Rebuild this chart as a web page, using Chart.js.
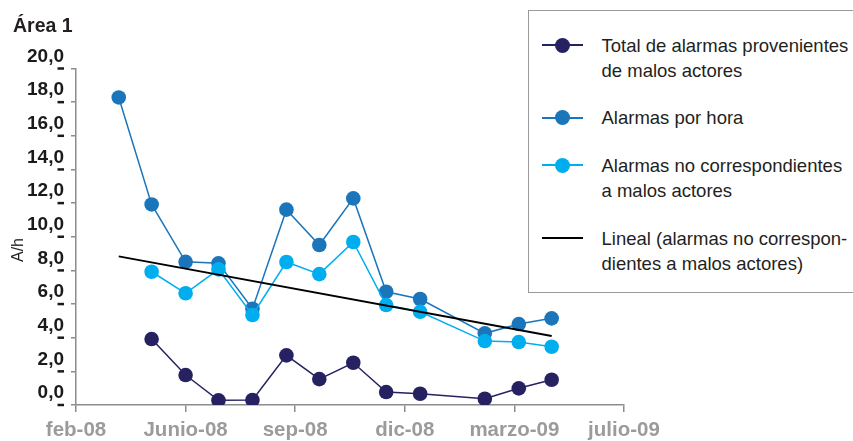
<!DOCTYPE html>
<html lang="es">
<head>
<meta charset="utf-8">
<title>Área 1 – alarmas por hora</title>
<script src="https://cdn.jsdelivr.net/npm/chart.js@4.4.1/dist/chart.umd.min.js"></script>
<style>
  html, body { margin: 0; padding: 0; background: #fff; }
  #wrap { position: relative; width: 853px; height: 441px; overflow: hidden;
          font-family: "Liberation Sans", Arial, sans-serif; color: #231f20; }
  #chart { position: absolute; left: 0; top: 0; }
  #title { position: absolute; left: 13px; top: 12.5px; font-weight: bold; font-size: 19.5px; line-height: 24px; }
  #ytitle { position: absolute; left: 17.5px; top: 250px; font-size: 16px; line-height: 18px;
            white-space: nowrap; transform: translate(-50%, -50%) rotate(-90deg); }
  #legendBox { position: absolute; left: 527.5px; top: 10px; width: 360px; height: 283px;
               box-sizing: border-box; border: 1.5px solid #9a9a9a; background: #fff; }
  .lg-line { position: absolute; left: 542px; width: 41px; height: 2px; }
  .lg-dot { position: absolute; left: 13px; top: -6.5px; width: 15px; height: 15px; border-radius: 50%; }
  .lg-text { position: absolute; left: 601.5px; font-size: 18.5px; line-height: 25px; white-space: nowrap; }
</style>
</head>
<body>
<div id="wrap">
  <canvas id="chart" width="853" height="441"></canvas>
  <div id="title">Área 1</div>
  <div id="ytitle">A/h</div>
  <div id="legendBox"></div>
</div>
<script>
// Monthly readings (first day of each month); February 2009 has no reading.
const months = ['2008-04', '2008-05', '2008-06', '2008-07', '2008-08', '2008-09', '2008-10',
                '2008-11', '2008-12', '2009-01', '2009-03', '2009-04', '2009-05'];

// Total de alarmas provenientes de malos actores
const badActorAlarms = [null, 3.92, 1.78, 0.28, 0.30, 2.95, 1.54, 2.51, 0.77, 0.67, 0.37, 0.99, 1.50];
// Alarmas por hora
const alarmsPerHour = [18.28, 11.92, 8.51, 8.42, 5.72, 11.61, 9.51, 12.28, 6.73, 6.30, 4.26, 4.81, 5.15];
// Alarmas no correspondientes a malos actores
const otherAlarms = [null, 7.92, 6.64, 8.06, 5.35, 8.50, 7.78, 9.69, 5.94, 5.54, 3.80, 3.74, 3.46];

// Date axis: starts 22 Feb 2008, a labelled tick every 100 days
const axisStartDate = '2008-02-22';
const tickStepDays = 100;
const xTickLabels = ['feb-08', 'Junio-08', 'sep-08', 'dic-08', 'marzo-09', 'julio-09'];

const yMin = 0, yMax = 20, yStep = 2;

const seriesNames = [
  'Total de alarmas provenientes\nde malos actores',
  'Alarmas por hora',
  'Alarmas no correspondientes\na malos actores',
  'Lineal (alarmas no correspon-\ndientes a malos actores)'
];
const seriesColors = ['#262262', '#1b75bb', '#00aeef', '#000000'];

// ---- helpers -------------------------------------------------------------
function dayNumber(iso) {
  const p = iso.split('-').map(Number);
  return Date.UTC(p[0], p[1] - 1, p[2] || 1) / 86400000;
}
const monthDays = months.map(m => dayNumber(m));
function toPoints(values) {
  const pts = [];
  values.forEach((v, i) => { if (v !== null) pts.push({ x: monthDays[i], y: v }); });
  return pts;
}

// Least-squares linear trend of a series, evaluated over the full month range
function linearTrend(points) {
  const n = points.length;
  const mx = points.reduce((s, p) => s + p.x, 0) / n;
  const my = points.reduce((s, p) => s + p.y, 0) / n;
  let sxy = 0, sxx = 0;
  points.forEach(p => { sxy += (p.x - mx) * (p.y - my); sxx += (p.x - mx) * (p.x - mx); });
  const slope = sxy / sxx;
  const x0 = monthDays[0], x1 = monthDays[monthDays.length - 1];
  return [{ x: x0, y: my + slope * (x0 - mx) }, { x: x1, y: my + slope * (x1 - mx) }];
}

const xStart = dayNumber(axisStartDate);
const xEnd = xStart + tickStepDays * (xTickLabels.length - 1);

const badPts = toPoints(badActorAlarms);
const hourPts = toPoints(alarmsPerHour);
const otherPts = toPoints(otherAlarms);
const trendPts = linearTrend(otherPts);

const axisGrey = '#8c8c8c';

// Short black dashes beside each value label of the vertical axis
const yLabelDashes = {
  id: 'yLabelDashes',
  afterDraw(chart) {
    const s = chart.scales.y, ctx = chart.ctx;
    ctx.save();
    ctx.strokeStyle = '#1a1a1a';
    ctx.lineWidth = 2.5;
    s.ticks.forEach(t => {
      const py = s.getPixelForValue(t.value);
      ctx.beginPath();
      ctx.moveTo(s.right - 18.5, py);
      ctx.lineTo(s.right - 12, py);
      ctx.stroke();
    });
    ctx.restore();
  }
};

const pointStyle = { pointRadius: 7.3, pointBorderWidth: 0, pointHoverRadius: 7.3, borderWidth: 1.5, tension: 0 };

const chart = new Chart(document.getElementById('chart'), {
  type: 'line',
  data: {
    datasets: [
      Object.assign({ label: seriesNames[0], data: badPts, borderColor: seriesColors[0],
        backgroundColor: seriesColors[0], pointBackgroundColor: seriesColors[0], order: 3 }, pointStyle),
      Object.assign({ label: seriesNames[1], data: hourPts, borderColor: seriesColors[1],
        backgroundColor: seriesColors[1], pointBackgroundColor: seriesColors[1], order: 2 }, pointStyle),
      Object.assign({ label: seriesNames[2], data: otherPts, borderColor: seriesColors[2],
        backgroundColor: seriesColors[2], pointBackgroundColor: seriesColors[2], order: 1 }, pointStyle),
      { label: seriesNames[3], data: trendPts, borderColor: seriesColors[3], borderWidth: 2,
        pointRadius: 0, order: 0 }
    ]
  },
  options: {
    responsive: false,
    animation: false,
    events: [],
    devicePixelRatio: 1,
    layout: { padding: { left: 0, top: 68.5, right: 229, bottom: 0 } },
    plugins: { legend: { display: false }, title: { display: false }, tooltip: { enabled: false } },
    scales: {
      x: {
        type: 'linear',
        min: xStart,
        max: xEnd,
        afterBuildTicks: s => { s.ticks = xTickLabels.map((_, i) => ({ value: xStart + i * tickStepDays })); },
        afterFit: s => { s.height = 36; },
        grid: { display: true, drawOnChartArea: false, drawTicks: true, tickLength: 7,
                color: axisGrey, lineWidth: 1.5 },
        border: { display: true, color: axisGrey, width: 1.5 },
        ticks: {
          autoSkip: false, maxRotation: 0, padding: 6,
          color: '#9b9b9b',
          font: { family: '"Liberation Sans", Arial, sans-serif', size: 20.5, weight: 'bold' },
          callback: (v, i) => xTickLabels[i]
        }
      },
      y: {
        min: yMin,
        max: yMax,
        afterFit: s => { s.width = 76; },
        grid: { display: true, drawOnChartArea: false, drawTicks: true, tickLength: 5,
                color: axisGrey, lineWidth: 1.5 },
        border: { display: true, color: axisGrey, width: 1.5 },
        ticks: {
          stepSize: yStep, padding: 7, labelOffset: -12,
          color: '#1a1a1a',
          font: { family: '"Liberation Sans", Arial, sans-serif', size: 19, weight: 'bold' },
          callback: v => v.toFixed(1).replace('.', ',')
        }
      }
    }
  },
  plugins: [yLabelDashes]
});

// Legend built from the dataset names and colours
(function buildLegend() {
  const wrap = document.getElementById('wrap');
  let top = 32.5;
  chart.data.datasets.forEach((ds, i) => {
    const lines = ds.label.split('\n');
    const line = document.createElement('div');
    line.className = 'lg-line';
    line.style.top = (top + 11.5) + 'px';
    line.style.background = ds.borderColor;
    if (ds.pointRadius > 0) {
      const dot = document.createElement('div');
      dot.className = 'lg-dot';
      dot.style.background = ds.borderColor;
      line.appendChild(dot);
    }
    const txt = document.createElement('div');
    txt.className = 'lg-text';
    txt.style.top = top + 'px';
    lines.forEach((l, k) => {
      if (k) txt.appendChild(document.createElement('br'));
      txt.appendChild(document.createTextNode(l));
    });
    wrap.appendChild(line);
    wrap.appendChild(txt);
    top += lines.length * 25 + 22.7;
  });
})();
</script>
</body>
</html>
